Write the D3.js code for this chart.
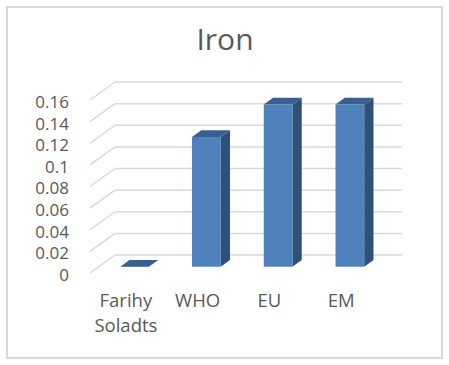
<!DOCTYPE html>
<html>
<head>
<meta charset="utf-8">
<script src="https://cdn.jsdelivr.net/npm/d3@7"></script>
<style>
  body { margin: 0; background: #fff; }
  text { font-family: "Open Sans", sans-serif; fill: #595959; }
</style>
</head>
<body>
<div id="chart"></div>
<script>
// data
const categories = ["Farihy Soladts", "WHO", "EU", "EM"];
const ironValues = [0, 0.12, 0.15, 0.15];
const yTicks = [0, 0.02, 0.04, 0.06, 0.08, 0.1, 0.12, 0.14, 0.16];
const yTickLabels = ["0", "0.02", "0.04", "0.06", "0.08", "0.1", "0.12", "0.14", "0.16"];

const width = 449, height = 365;
// oblique depth of the 3D box
const depth = {dx: 25, dy: -18};
const barFront = 0.35, barBack = 0.72;

const svg = d3.select("#chart").append("svg")
    .attr("width", width)
    .attr("height", height);

svg.append("rect")
    .attr("x", 7).attr("y", 7)
    .attr("width", 435).attr("height", 351)
    .attr("fill", "#fff")
    .attr("stroke", "#d9d9d9")
    .attr("stroke-width", 2);

svg.append("text")
    .text("Iron")
    .attr("x", 225)
    .attr("y", 50)
    .attr("text-anchor", "middle")
    .attr("font-size", 30);

// scales (front plane)
const xScale = d3.scaleBand()
    .domain(categories)
    .range([90, 377])
    .paddingInner(0.6)
    .paddingOuter(0.3);

const yScale = d3.scaleLinear()
    .domain([0, 0.16])
    .range([273, 100]);

// gridlines on the back wall + diagonals on the side wall
const grid = svg.append("g").attr("class", "grid");
grid.selectAll(".back")
    .data(yTicks)
    .enter().append("line")
    .attr("class", "back")
    .attr("x1", xScale.range()[0] + depth.dx)
    .attr("x2", xScale.range()[1] + depth.dx)
    .attr("y1", d => yScale(d) + depth.dy)
    .attr("y2", d => yScale(d) + depth.dy)
    .attr("stroke", "#d9d9d9")
    .attr("stroke-width", 1.5);
grid.selectAll(".side")
    .data(yTicks)
    .enter().append("line")
    .attr("class", "side")
    .attr("x1", xScale.range()[0])
    .attr("x2", xScale.range()[0] + depth.dx)
    .attr("y1", d => yScale(d))
    .attr("y2", d => yScale(d) + depth.dy)
    .attr("stroke", "#d9d9d9")
    .attr("stroke-width", 1.5);

// y axis labels
const yAxis = d3.axisLeft(yScale)
    .tickValues(yTicks)
    .tickFormat((d, i) => yTickLabels[i])
    .tickSize(0)
    .tickPadding(3);
svg.append("g")
    .attr("class", "y-axis")
    .attr("transform", "translate(72, 2)")
    .call(yAxis)
    .call(g => g.select(".domain").remove())
    .selectAll("text")
    .attr("font-family", null)
    .attr("font-size", 17)
    .attr("fill", null);

// x axis labels
const xAxis = d3.axisBottom(xScale).tickSize(0).tickPadding(0);
const xg = svg.append("g")
    .attr("class", "x-axis")
    .attr("transform", "translate(0, 301)")
    .call(xAxis)
    .call(g => g.select(".domain").remove());
xg.selectAll("text")
    .attr("font-family", null)
    .attr("font-size", 18.5)
    .attr("fill", null)
    .attr("y", 0)
    .attr("dy", null)
    .each(function(d) {
        const el = d3.select(this);
        const words = d.split(" ");
        el.text(null);
        words.forEach((w, i) => {
            el.append("tspan")
                .attr("x", 0)
                .attr("dy", i === 0 ? "0.35em" : 25)
                .text(w);
        });
    });

// 3D bars
const bars = svg.append("g").attr("class", "bars")
    .selectAll("g")
    .data(categories.map((c, i) => ({cat: c, value: ironValues[i]})))
    .enter().append("g");

const bw = xScale.bandwidth();
const fx = d => xScale(d.cat) + depth.dx * barFront;
const fy0 = yScale(0) + depth.dy * barFront;
const fyTop = d => yScale(d.value) + depth.dy * barFront;
const ddx = depth.dx * (barBack - barFront);
const ddy = depth.dy * (barBack - barFront);

// side face
bars.filter(d => d.value > 0).append("path")
    .attr("d", d => {
        const x = fx(d) + bw;
        return `M${x},${fy0} L${x + ddx},${fy0 + ddy} L${x + ddx},${fyTop(d) + ddy} L${x},${fyTop(d)} Z`;
    })
    .attr("fill", "#2f5178");

// top face
bars.append("path")
    .attr("d", d => {
        const x = fx(d), y = fyTop(d);
        return `M${x},${y} L${x + bw},${y} L${x + bw + ddx},${y + ddy} L${x + ddx},${y + ddy} Z`;
    })
    .attr("fill", "#385f8f");

// front face
bars.filter(d => d.value > 0).append("rect")
    .attr("x", fx)
    .attr("y", fyTop)
    .attr("width", bw)
    .attr("height", d => fy0 - fyTop(d))
    .attr("fill", "#4f81bd");
</script>
</body>
</html>
